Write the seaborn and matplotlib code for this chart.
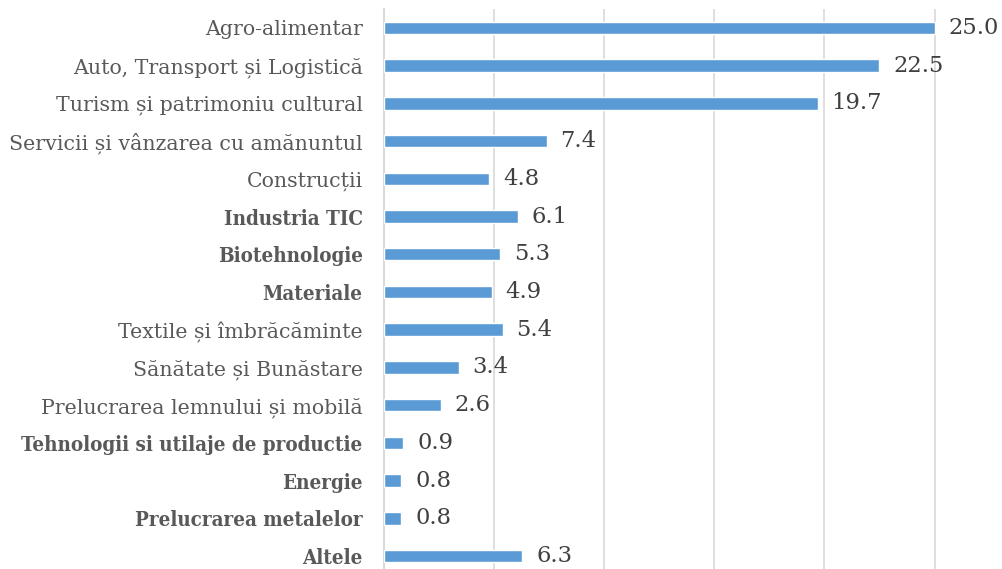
import matplotlib.pyplot as plt
import pandas as pd
import seaborn as sns

SECTORS = [
    "Agro-alimentar",
    "Auto, Transport și Logistică",
    "Turism și patrimoniu cultural",
    "Servicii și vânzarea cu amănuntul",
    "Construcții",
    "Industria TIC",
    "Biotehnologie",
    "Materiale",
    "Textile și îmbrăcăminte",
    "Sănătate și Bunăstare",
    "Prelucrarea lemnului și mobilă",
    "Tehnologii si utilaje de productie",
    "Energie",
    "Prelucrarea metalelor",
    "Altele",
]
VALUES = [25.0, 22.5, 19.7, 7.4, 4.8, 6.1, 5.3, 4.9, 5.4, 3.4, 2.6, 0.9, 0.8, 0.8, 6.3]
BOLD = {
    "Industria TIC",
    "Biotehnologie",
    "Materiale",
    "Tehnologii si utilaje de productie",
    "Energie",
    "Prelucrarea metalelor",
    "Altele",
}
GRID_TICKS = [0, 5, 10, 15, 20, 25]

BLUE = "#5b9bd5"
LABEL = "#595959"
VALUE = "#404040"
GRID = "#d9d9d9"

sns.set_theme(style="white")
plt.rcParams["font.family"] = ["DejaVu Serif"]

df = pd.DataFrame({"sector": SECTORS, "value": VALUES})

fig = plt.figure(figsize=(10.02, 5.69), dpi=100)
ax = fig.add_axes([0.3828, -0.0105, 0.6172, 0.9947])

sns.barplot(data=df, x="value", y="sector", color=BLUE, width=0.33,
            saturation=1, ax=ax, zorder=3)

ax.set_xlim(0, 28.06)
ax.set_xticks(GRID_TICKS)
ax.set_xticklabels([])
ax.grid(axis="x", color=GRID, linewidth=1.2, zorder=0)
ax.tick_params(axis="both", length=0)
ax.tick_params(axis="y", pad=15, labelsize=14.8, labelcolor=LABEL)
ax.set_xlabel("")
ax.set_ylabel("")
# semibold-looking labels: condensed bold keeps the same width as the original
for label in ax.get_yticklabels():
    if label.get_text() in BOLD:
        label.set_fontweight("bold")
        label.set_fontstretch("condensed")
        label.set_fontsize(14.8)

for spine in ["top", "right", "bottom"]:
    ax.spines[spine].set_visible(False)
ax.spines["left"].set_color(GRID)
ax.spines["left"].set_linewidth(1.4)

ax.bar_label(ax.containers[0], fmt="%.1f", padding=10, fontsize=16.3,
             color=VALUE)

fig.savefig("out.png", dpi=100, facecolor="white")
